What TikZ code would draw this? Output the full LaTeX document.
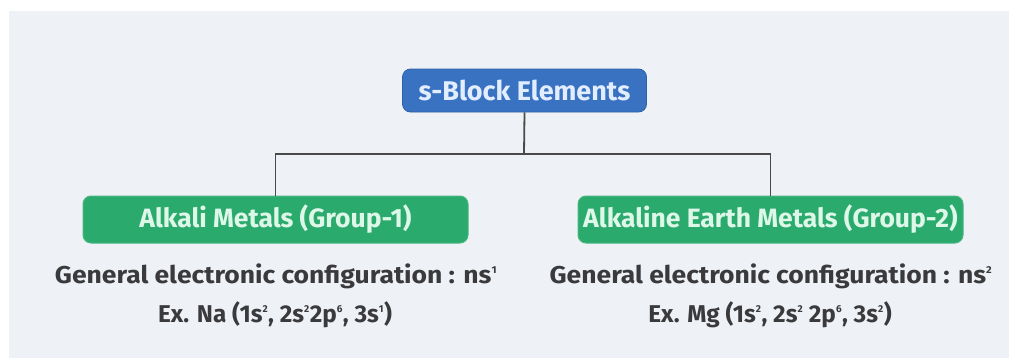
\documentclass[tikz,border=0pt]{standalone}
\usepackage{fontspec}
\setmainfont{Fira Sans}
\newfontfamily\widefont[FakeStretch=1.09]{Fira Sans}
\definecolor{bg}{HTML}{EEF1F5}
\definecolor{blueb}{HTML}{3A72C2}
\definecolor{bluet}{HTML}{E2EEFF}
\definecolor{greenb}{HTML}{2AAA6C}
\definecolor{greent}{HTML}{DDF7E8}
\definecolor{txt}{HTML}{3A3A3C}
\definecolor{ln}{HTML}{4A4A4A}
\newcommand{\sps}[1]{\textsuperscript{\fontsize{10}{10}\selectfont #1}}
\begin{document}
\begin{tikzpicture}[x=1pt,y=-1pt,
  topbox/.style={fill=blueb, draw=blueb!85!black, line width=0.8pt, rounded corners=8pt, text=bluet, font=\bfseries\fontsize{27}{30}\selectfont, minimum width=244pt, minimum height=43pt, inner sep=0pt},
  grpbox/.style={fill=greenb, draw=greenb!85!white, line width=1pt, rounded corners=8pt, text=greent, font=\bfseries\fontsize{26.5}{30}\selectfont, minimum width=385pt, minimum height=47pt, inner sep=0pt},
  info/.style={text=txt, font=\bfseries\fontsize{24.3}{28}\selectfont, inner sep=0pt, anchor=base},
  winfo/.style={info, font=\widefont\bfseries\fontsize{24.3}{28}\selectfont},
  conn/.style={draw=ln, line width=1.8pt}]
\useasboundingbox (0,0) rectangle (1009,362);
\fill[white] (0,0) rectangle (1009,362);
\fill[bg] (9,11) rectangle (1009,358);
\node[topbox] (top) at (524.5,90.5) {s-Block Elements};
\node[grpbox] (g1) at (275.5,219.5) {Alkali Metals (Group-1)};
\node[grpbox] (g2) at (770.5,219.5) {Alkaline Earth Metals (Group-2)};
\coordinate (j) at (524,154);
\draw[conn] (top.south) -- (j);
\draw[conn] (g1.north) |- (j) -| (g2.north);
\node[winfo] (c1) at (276,283) {General electronic configuration : ns\sps{1}};
\node[info] (e1) at (275,322) {Ex. Na (1s\sps{2}, 2s\sps{2}2p\sps{6}, 3s\sps{1})};
\node[winfo] (c2) at (771,283) {General electronic configuration : ns\sps{2}};
\node[info] (e2) at (770,322) {Ex. Mg (1s\sps{2}, 2s\sps{2} 2p\sps{6}, 3s\sps{2})};
\end{tikzpicture}
\end{document}
